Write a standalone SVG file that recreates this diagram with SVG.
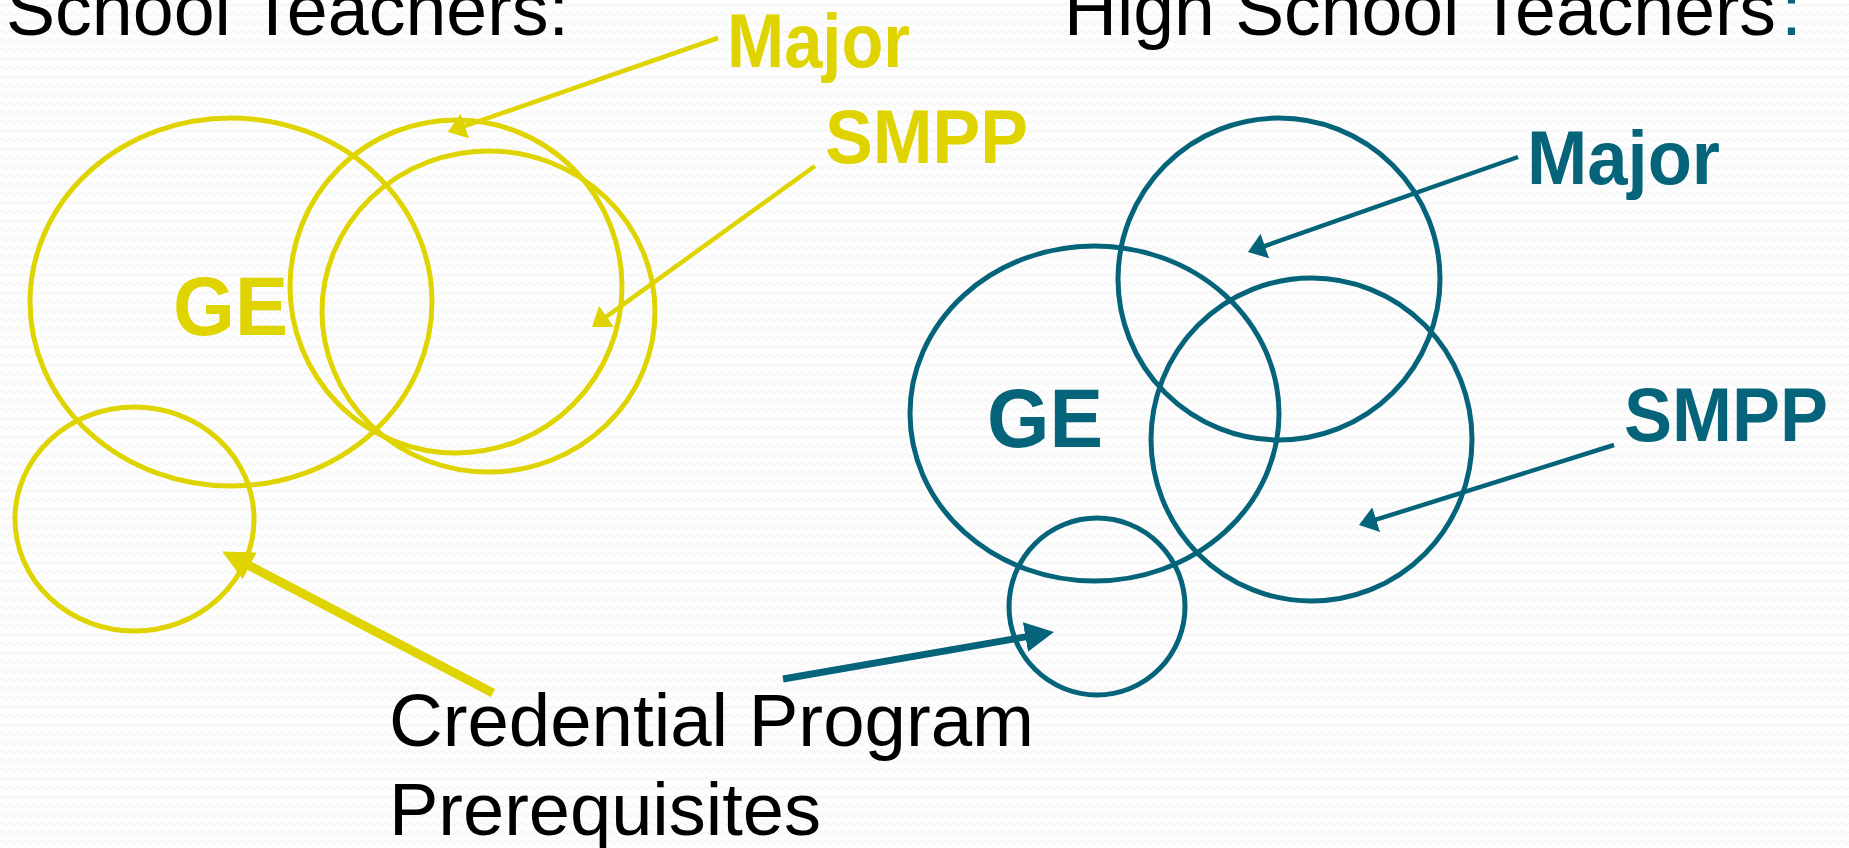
<svg xmlns="http://www.w3.org/2000/svg" width="1849" height="848" viewBox="0 0 1849 848">
  <defs>
    <pattern id="bgwave" width="8" height="9" patternUnits="userSpaceOnUse">
      <path d="M0,5 Q2,2 4,5 T8,5" fill="none" stroke="#EFEFEF" stroke-width="1"/>
    </pattern>
    <marker id="ahY" markerUnits="userSpaceOnUse" markerWidth="20" markerHeight="26" refX="2" refY="13" orient="auto">
      <path d="M0,0 L18,13 L0,26 z" fill="#DFD400"/>
    </marker>
    <marker id="ahT" markerUnits="userSpaceOnUse" markerWidth="20" markerHeight="26" refX="2" refY="13" orient="auto">
      <path d="M0,0 L18,13 L0,26 z" fill="#05637A"/>
    </marker>
    <marker id="ahYbig" markerUnits="userSpaceOnUse" markerWidth="32" markerHeight="30" refX="3" refY="15" orient="auto">
      <path d="M0,0 L31,15 L0,30 z" fill="#DFD400"/>
    </marker>
    <marker id="ahTbig" markerUnits="userSpaceOnUse" markerWidth="32" markerHeight="30" refX="3" refY="15" orient="auto">
      <path d="M0,0 L29,15 L0,30 z" fill="#05637A"/>
    </marker>
  </defs>
  <style>
    .y { fill: none; stroke: #DFD400; stroke-width: 5; }
    .t { fill: none; stroke: #05637A; stroke-width: 5; }
    .title { font-family: "Liberation Sans", Arial, sans-serif; font-size: 75px; fill: #000; }
    .lbl { font-family: "Liberation Sans", Arial, sans-serif; font-size: 76px; font-weight: bold; }
    .ge { font-size: 84px; }
    .fy { fill: #DFD400; }
    .ft { fill: #05637A; }
    .ay { stroke: #DFD400; stroke-width: 4.5; fill: none; }
    .at { stroke: #05637A; stroke-width: 4.5; fill: none; }
  </style>

  <rect width="1849" height="848" fill="#FDFDFD"/>
  <rect width="1849" height="848" fill="url(#bgwave)"/>

  <g id="titles">
    <text class="title" x="6" y="35" textLength="563" lengthAdjust="spacingAndGlyphs">School Teachers:</text>
    <text class="title" x="1064" y="35" textLength="712" lengthAdjust="spacingAndGlyphs">High School Teachers</text>
    <text class="title ft" x="1781" y="35">:</text>
  </g>

  <g id="elem-ge">
    <ellipse class="y" cx="231" cy="302" rx="201" ry="184"/>
    <text class="lbl ge fy" x="173" y="335" textLength="115" lengthAdjust="spacingAndGlyphs">GE</text>
  </g>
  <g id="elem-major">
    <ellipse class="y" cx="456" cy="286.5" rx="166" ry="166.5"/>
    <text class="lbl fy" x="727" y="67" textLength="183" lengthAdjust="spacingAndGlyphs">Major</text>
  </g>
  <g id="elem-smpp">
    <ellipse class="y" cx="488.5" cy="311.5" rx="166.5" ry="160.5"/>
    <text class="lbl fy" x="825" y="163" textLength="203" lengthAdjust="spacingAndGlyphs">SMPP</text>
  </g>
  <g id="elem-cred">
    <ellipse class="y" cx="134.5" cy="519" rx="119.5" ry="112"/>
  </g>

  <g id="hs-ge">
    <ellipse class="t" cx="1094.5" cy="413.5" rx="184.5" ry="167.5"/>
    <text class="lbl ge ft" x="987" y="447" textLength="116" lengthAdjust="spacingAndGlyphs">GE</text>
  </g>
  <g id="hs-major">
    <ellipse class="t" cx="1279" cy="279" rx="161" ry="161"/>
    <text class="lbl ft" x="1527" y="184" textLength="193" lengthAdjust="spacingAndGlyphs">Major</text>
  </g>
  <g id="hs-smpp">
    <ellipse class="t" cx="1311.5" cy="439.5" rx="160.5" ry="161.5"/>
    <text class="lbl ft" x="1624" y="441" textLength="204" lengthAdjust="spacingAndGlyphs">SMPP</text>
  </g>
  <g id="hs-cred">
    <ellipse class="t" cx="1097" cy="606.5" rx="88" ry="88.5"/>
  </g>

  <g id="cred-label">
    <text class="title" x="389" y="746" textLength="645" lengthAdjust="spacingAndGlyphs">Credential Program</text>
    <text class="title" x="389" y="835" textLength="432" lengthAdjust="spacingAndGlyphs">Prerequisites</text>
  </g>

  <g id="connectors">
    <line class="ay" x1="718" y1="38" x2="463" y2="126.7" marker-end="url(#ahY)"/>
    <line class="ay" x1="815" y1="166" x2="605" y2="317.6" marker-end="url(#ahY)"/>
    <line class="at" x1="1518" y1="157" x2="1263" y2="246.7" marker-end="url(#ahT)"/>
    <line class="at" x1="1614" y1="445" x2="1374.3" y2="520.2" marker-end="url(#ahT)"/>
    <line stroke="#DFD400" stroke-width="9" x1="493" y1="693" x2="247" y2="564.5" marker-end="url(#ahYbig)"/>
    <line stroke="#05637A" stroke-width="7" x1="783" y1="679" x2="1028.4" y2="636.4" marker-end="url(#ahTbig)"/>
  </g>
</svg>
